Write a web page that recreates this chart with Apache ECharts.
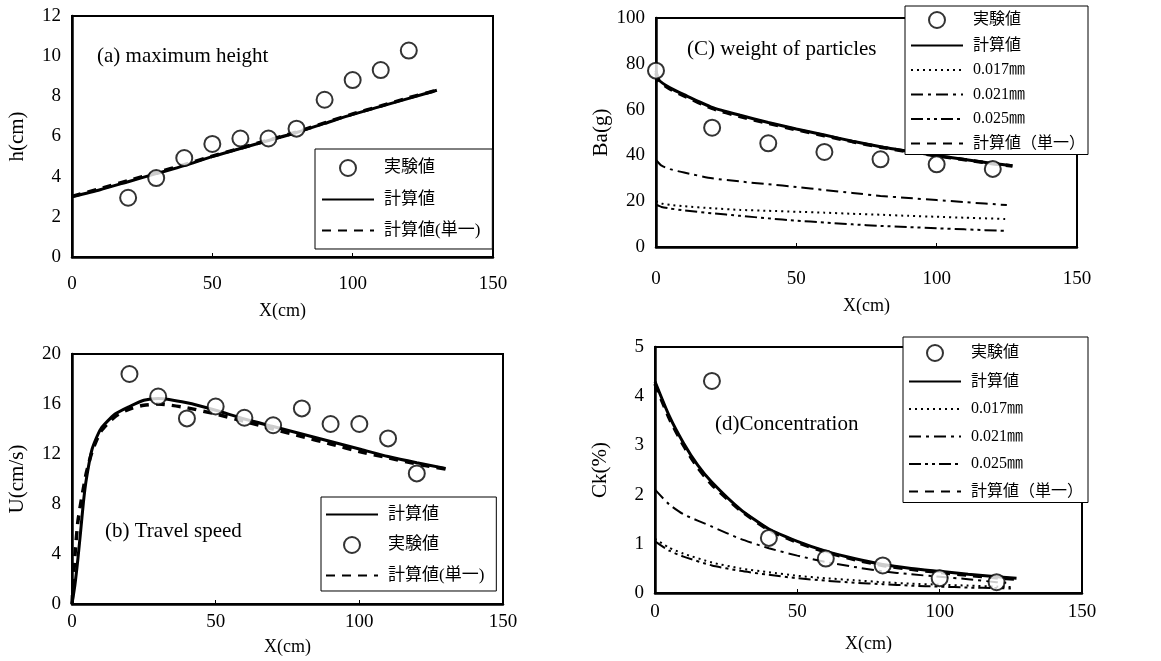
<!DOCTYPE html>
<html>
<head>
<meta charset="utf-8">
<script src="https://cdn.jsdelivr.net/npm/echarts@6/dist/echarts.min.js"></script>
<style>
  html, body { margin: 0; padding: 0; background: #fff; }
  #chart { width: 1161px; height: 661px; }
</style>
</head>
<body>
<div id="chart"></div>
<script>
// (a) maximum height
const aExpX = [20, 30, 40, 50, 60, 70, 80, 90, 100, 110, 120];
const aExpY = [2.95, 3.93, 4.93, 5.63, 5.9, 5.9, 6.39, 7.83, 8.81, 9.31, 10.28];
const aCalcX = [0, 10, 20, 30, 40, 50, 60, 70, 80, 90, 100, 110, 120, 130];
const aCalcY = [3.0, 3.35, 3.75, 4.15, 4.55, 5.0, 5.4, 5.8, 6.2, 6.65, 7.1, 7.5, 7.9, 8.3];
const aSingleY = [3.02, 3.4, 3.8, 4.2, 4.6, 5.02, 5.42, 5.82, 6.22, 6.68, 7.12, 7.52, 7.93, 8.3];

// (b) travel speed
const bExpX = [20, 30, 40, 50, 60, 70, 80, 90, 100, 110, 120];
const bExpY = [18.4, 16.6, 14.85, 15.8, 14.9, 14.3, 15.65, 14.4, 14.4, 13.25, 10.45];
const bCalcX = [0, 1, 2, 3, 4, 5, 7, 10, 15, 20, 25, 30, 40, 50, 60, 70, 80, 90, 100, 110, 120, 130];
const bCalcY = [0, 1.5, 3.5, 5.8, 8.2, 10.0, 12.4, 14.0, 15.2, 15.8, 16.3, 16.45, 16.1, 15.5, 14.8, 14.2, 13.6, 13.0, 12.4, 11.8, 11.3, 10.85];
const bSingleY = [0, 3.8, 6.5, 8.0, 9.3, 10.5, 12.2, 13.8, 15.0, 15.6, 15.9, 16.0, 15.7, 15.2, 14.6, 14.0, 13.4, 12.8, 12.2, 11.7, 11.2, 10.8];

// (C) weight of particles
const cExpX = [0, 20, 40, 60, 80, 100, 120];
const cExpY = [77, 52.1, 45.3, 41.5, 38.3, 36.1, 34.1];
const cCalcX = [0, 1, 5, 10, 20, 30, 40, 50, 60, 70, 80, 90, 100, 110, 120, 127];
const cCalcY = [77, 73, 69.5, 66.5, 61, 57.5, 54.4, 51.5, 48.9, 46.2, 43.8, 41.8, 39.9, 38.2, 36.5, 35.5];
const cSingleY = [76, 72.5, 69, 66, 60.5, 57, 54, 51.2, 48.6, 46, 43.6, 41.6, 39.8, 38.1, 36.4, 35.4];
const cSizeX = [0, 2, 5, 10, 20, 30, 40, 50, 60, 70, 80, 90, 100, 110, 125];
const c017 = [20, 19, 18.4, 17.8, 16.9, 16.2, 15.8, 15.4, 15.0, 14.5, 14.1, 13.6, 13.2, 12.8, 12.2];
const c021 = [38, 35.5, 34, 32.5, 30, 28.6, 27.4, 26.2, 24.9, 23.6, 22.3, 21.4, 20.5, 19.6, 18.3];
const c025 = [18.5, 17.5, 16.8, 16.0, 14.7, 13.6, 12.5, 11.5, 10.7, 9.9, 9.2, 8.7, 8.2, 7.7, 7.0];

// (d) concentration
const dExpX = [20, 40, 60, 80, 100, 120];
const dExpY = [4.31, 1.12, 0.7, 0.56, 0.3, 0.22];
const dCalcX = [0, 5, 10, 15, 20, 30, 40, 50, 60, 70, 80, 90, 100, 110, 120, 127];
const dCalcY = [4.3, 3.6, 3.05, 2.6, 2.25, 1.7, 1.3, 1.05, 0.85, 0.7, 0.58, 0.5, 0.44, 0.38, 0.33, 0.3];
const dSingleY = [4.25, 3.55, 3.0, 2.55, 2.2, 1.68, 1.28, 1.03, 0.83, 0.68, 0.56, 0.48, 0.42, 0.36, 0.31, 0.28];
const dSizeX = [0, 5, 10, 20, 30, 40, 50, 60, 70, 80, 90, 100, 110, 120, 125];
const d017 = [1.1, 0.92, 0.8, 0.62, 0.5, 0.42, 0.35, 0.3, 0.26, 0.22, 0.19, 0.17, 0.15, 0.13, 0.12];
const d021 = [2.1, 1.8, 1.6, 1.35, 1.1, 0.91, 0.76, 0.63, 0.53, 0.44, 0.38, 0.33, 0.28, 0.22, 0.2];
const d025 = [1.05, 0.86, 0.74, 0.56, 0.45, 0.37, 0.3, 0.25, 0.21, 0.18, 0.15, 0.13, 0.11, 0.1, 0.09];

const EXP = '実験値', CALC = '計算値', SINGLE_AB = '計算値(単一)', SINGLE_CD = '計算値（単一）';
const S017 = '0.017㎜', S021 = '0.021㎜', S025 = '0.025㎜';

const SERIF = '"Liberation Serif", "Noto Sans CJK JP", serif';
const zip = (xs, ys) => xs.map((x, i) => [x, ys[i]]);

const chart = echarts.init(document.getElementById('chart'));

// grid boxes: [left, top, width, height]
const boxes = [
  [72, 16, 421, 241],   // a
  [656, 18, 421, 229],  // c
  [72, 354, 431, 250],  // b
  [655, 347, 427, 246]  // d
];
const yCfg = [
  { max: 12, interval: 2, name: 'h(cm)' },
  { max: 100, interval: 20, name: 'Ba(g)' },
  { max: 20, interval: 4, name: 'U(cm/s)' },
  { max: 5, interval: 1, name: 'Ck(%)' }
];
const xLabelMargin = [18, 23, 9, 10];
const xNameGap = [45, 50, 34, 42];

const grids = boxes.map(b => ({
  left: b[0], top: b[1], width: b[2], height: b[3],
  show: true, borderColor: '#000', borderWidth: 2, backgroundColor: 'transparent'
}));

const xAxes = boxes.map((b, i) => ({
  type: 'value', gridIndex: i, min: 0, max: 150, interval: 50,
  name: 'X(cm)', nameLocation: 'middle', nameGap: xNameGap[i],
  nameTextStyle: { fontFamily: SERIF, fontSize: 18, color: '#000' },
  axisLine: { lineStyle: { color: '#000', width: 2.5 } },
  axisTick: { show: true, inside: true, length: 4, lineStyle: { color: '#000' } },
  axisLabel: { fontFamily: SERIF, fontSize: 19, color: '#000', margin: xLabelMargin[i] },
  splitLine: { show: false }
}));

const yAxes = yCfg.map((c, i) => ({
  type: 'value', gridIndex: i, min: 0, max: c.max, interval: c.interval,
  name: c.name, nameLocation: 'middle', nameGap: 44, nameRotate: 90,
  nameTextStyle: { fontFamily: SERIF, fontSize: 21, color: '#000' },
  axisLine: { show: true, lineStyle: { color: '#000', width: 2.5 } },
  axisTick: { show: false },
  axisLabel: { fontFamily: SERIF, fontSize: 19, color: '#000', margin: 11 },
  splitLine: { show: false }
}));

const LINE_STYLES = {
  calc: { color: '#000', width: 3, type: 'solid' },
  single: { color: '#000', width: 3.5, type: [9, 7] },
  s017: { color: '#000', width: 2, type: [2, 4] },
  s021: { color: '#000', width: 2, type: [12, 5, 3, 5] },
  s025: { color: '#000', width: 2, type: [12, 4, 3, 4, 3, 4] }
};

function line(name, idx, xs, ys, style, z) {
  return {
    name, type: 'line', xAxisIndex: idx, yAxisIndex: idx,
    data: zip(xs, ys), smooth: 0.2, showSymbol: false, symbol: 'none',
    lineStyle: style, itemStyle: { color: '#000' }, z: z || 2, silent: true
  };
}
function exp(idx, xs, ys) {
  return {
    name: EXP, type: 'scatter', xAxisIndex: idx, yAxisIndex: idx,
    data: zip(xs, ys), symbol: 'circle', symbolSize: 16,
    itemStyle: { color: '#fff', borderColor: '#000', borderWidth: 2 }, z: 5
  };
}

const series = [
  // a
  line(SINGLE_AB, 0, aCalcX, aSingleY, LINE_STYLES.single, 3),
  line(CALC, 0, aCalcX, aCalcY, LINE_STYLES.calc, 3),
  exp(0, aExpX, aExpY),
  // c
  line(S017, 1, cSizeX, c017, LINE_STYLES.s017),
  line(S021, 1, cSizeX, c021, LINE_STYLES.s021),
  line(S025, 1, cSizeX, c025, LINE_STYLES.s025),
  line(SINGLE_CD, 1, cCalcX, cSingleY, LINE_STYLES.single, 3),
  line(CALC, 1, cCalcX, cCalcY, LINE_STYLES.calc, 3),
  exp(1, cExpX, cExpY),
  // b
  line(SINGLE_AB, 2, bCalcX, bSingleY, LINE_STYLES.single, 3),
  line(CALC, 2, bCalcX, bCalcY, LINE_STYLES.calc, 3),
  exp(2, bExpX, bExpY),
  // d
  line(S017, 3, dSizeX, d017, LINE_STYLES.s017),
  line(S021, 3, dSizeX, d021, LINE_STYLES.s021),
  line(S025, 3, dSizeX, d025, LINE_STYLES.s025),
  line(SINGLE_CD, 3, dCalcX, dSingleY, LINE_STYLES.single, 3),
  line(CALC, 3, dCalcX, dCalcY, LINE_STYLES.calc, 3),
  exp(3, dExpX, dExpY)
];

// line entries hide the symbol drawn in the middle of the legend icon
const item = name => name === EXP ? { name } : { name, itemStyle: { opacity: 0 } };

function legend(names, left, top, gap, padding, fontSize) {
  return {
    data: names.map(item), orient: 'vertical', left, top, itemGap: gap, padding,
    itemWidth: 52, itemHeight: 16, selectedMode: false,
    backgroundColor: '#fff', borderColor: '#000', borderWidth: 1,
    textStyle: { fontFamily: SERIF, fontSize, color: '#000', padding: [0, 0, 0, 5] }
  };
}

const legends = [
  legend([EXP, CALC, SINGLE_AB], 315, 149, 14, [10, 12, 10, 6], 17),
  legend([EXP, CALC, S017, S021, S025, SINGLE_CD], 905, 6, 8.5, [5, 3, 3, 5], 16),
  legend([CALC, EXP, SINGLE_AB], 321, 497, 13, [9, 12, 7, 4], 17),
  legend([EXP, CALC, S017, S021, S025, SINGLE_CD], 903, 337, 11.5, [7, 5, 3, 5], 16)
];

const noteStyle = { fontFamily: SERIF, fontSize: 21, fill: '#000' };
const notes = [
  ['(a) maximum height', 97, 55],
  ['(C) weight of particles', 687, 48],
  ['(b) Travel speed', 105, 530],
  ['(d)Concentration', 715, 423]
];

chart.setOption({
  animation: false,
  backgroundColor: '#fff',
  grid: grids,
  xAxis: xAxes,
  yAxis: yAxes,
  legend: legends,
  series,
  graphic: notes.map(n => ({
    type: 'text', left: n[1], top: n[2] - 9, z: 10,
    style: Object.assign({ text: n[0] }, noteStyle)
  }))
});
</script>
</body>
</html>
